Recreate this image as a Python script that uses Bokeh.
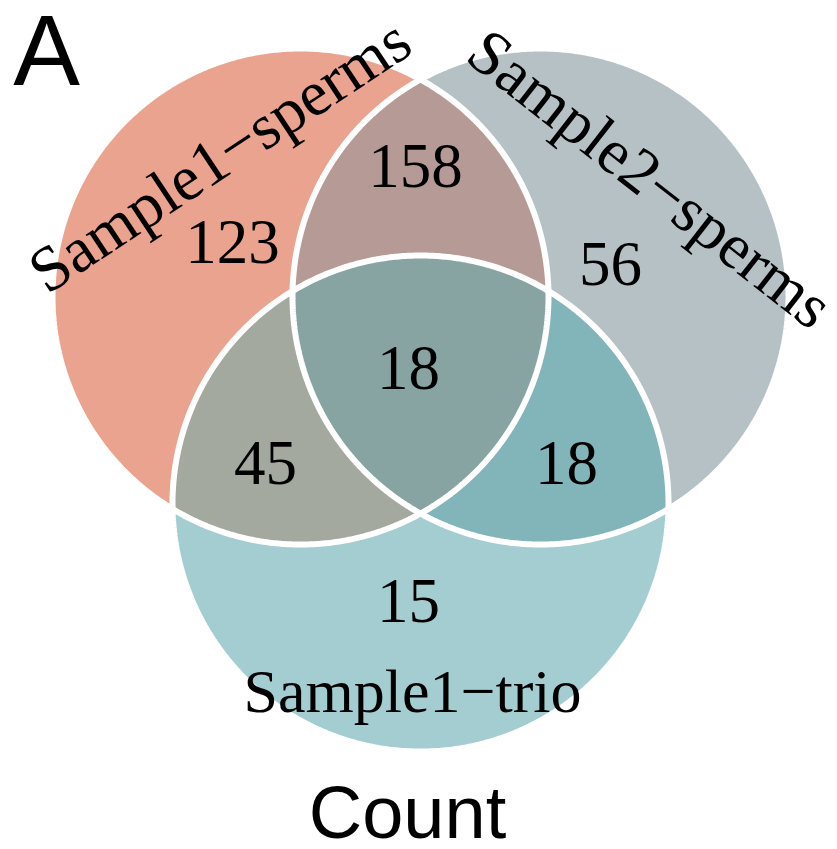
import numpy as np
from bokeh.plotting import figure
from bokeh.models import Range1d
from bokeh.core.properties import value
from bokeh.embed import file_html
from bokeh.resources import INLINE

# ---- data ----
set_names = ["Sample1\u2212sperms", "Sample2\u2212sperms", "Sample1\u2212trio"]
region_names = ["A", "B", "C", "AB", "AC", "BC", "ABC"]
region_counts = [123, 56, 15, 158, 45, 18, 18]
region_colors = ["#EAA38F", "#B6C1C6", "#A3CDD0", "#B59A96", "#A4A99F", "#81B5B9", "#87A4A2"]

# ---- layout (pixel space, y downward) ----
cx = np.array([300, 540, 420])
cy = np.array([296, 296, 503])
R = 248

num_x = np.array([232, 610, 408, 415, 265, 566, 408])
num_y = np.array([241, 263, 600, 165, 462, 462, 367])

lab_x = np.array([219, 650, 412])
lab_y = np.array([155, 178, 690])
lab_ang = [np.deg2rad(33.5), np.deg2rad(-38), 0.0]
lab_size = ["64px", "64px", "62px"]


def circ_poly(i, n=720):
    t = np.linspace(0, 2 * np.pi, n, endpoint=False)
    return list(zip(cx[i] + R * np.cos(t), cy[i] + R * np.sin(t)))


def clip(subject, clipper):
    # Sutherland-Hodgman for convex clipper
    def inside(p, a, b):
        return (b[0] - a[0]) * (p[1] - a[1]) - (b[1] - a[1]) * (p[0] - a[0]) >= 0

    def inter(p, q, a, b):
        x1, y1 = p; x2, y2 = q; x3, y3 = a; x4, y4 = b
        d = (x1 - x2) * (y3 - y4) - (y1 - y2) * (x3 - x4)
        t = ((x1 - x3) * (y3 - y4) - (y1 - y3) * (x3 - x4)) / d
        return (x1 + t * (x2 - x1), y1 + t * (y2 - y1))

    out = subject
    n = len(clipper)
    for k in range(n):
        a = clipper[k]; b = clipper[(k + 1) % n]
        inp = out
        out = []
        if not inp:
            break
        s = inp[-1]
        for e in inp:
            if inside(e, a, b):
                if not inside(s, a, b):
                    out.append(inter(s, e, a, b))
                out.append(e)
            elif inside(s, a, b):
                out.append(inter(s, e, a, b))
            s = e
    return out


polys = [circ_poly(i) for i in range(3)]
regions = {
    "A": polys[0], "B": polys[1], "C": polys[2],
    "AB": clip(polys[0], polys[1]),
    "AC": clip(polys[0], polys[2]),
    "BC": clip(polys[1], polys[2]),
}
regions["ABC"] = clip(regions["AB"], polys[2])

W, H = 837, 849
p = figure(width=W, height=H, output_backend="svg", toolbar_location=None,
           x_range=Range1d(0, W), y_range=Range1d(H, 0), min_border=0)
p.axis.visible = False
p.grid.visible = False
p.outline_line_color = None
p.background_fill_color = "white"
p.border_fill_color = "white"

xs = [[q[0] for q in regions[r]] for r in region_names]
ys = [[q[1] for q in regions[r]] for r in region_names]
p.patches(xs, ys, fill_color=region_colors, line_color=None)

# white outlines
for i in range(3):
    pl = polys[i] + [polys[i][0]]
    p.line([q[0] for q in pl], [q[1] for q in pl], line_color="white", line_width=6)

p.text(num_x, num_y, text=[str(c) for c in region_counts],
       text_font=value("Liberation Serif"), text_font_size="63px",
       text_align="center", text_baseline="middle", text_color="black")

for i in range(3):
    p.text([lab_x[i]], [lab_y[i]], text=[set_names[i]], angle=lab_ang[i],
           text_font=value("Liberation Serif"), text_font_size=lab_size[i],
           text_align="center", text_baseline="middle", text_color="black")

p.text([46], [49], text=["A"], text_font=value("Liberation Sans"),
       text_font_size="100px", text_align="center", text_baseline="middle", text_color="black")
p.text([407], [812], text=["Count"], text_font=value("Liberation Sans"),
       text_font_size="74px", text_align="center", text_baseline="middle", text_color="black")

open("out.html", "w").write(file_html(p, INLINE))
